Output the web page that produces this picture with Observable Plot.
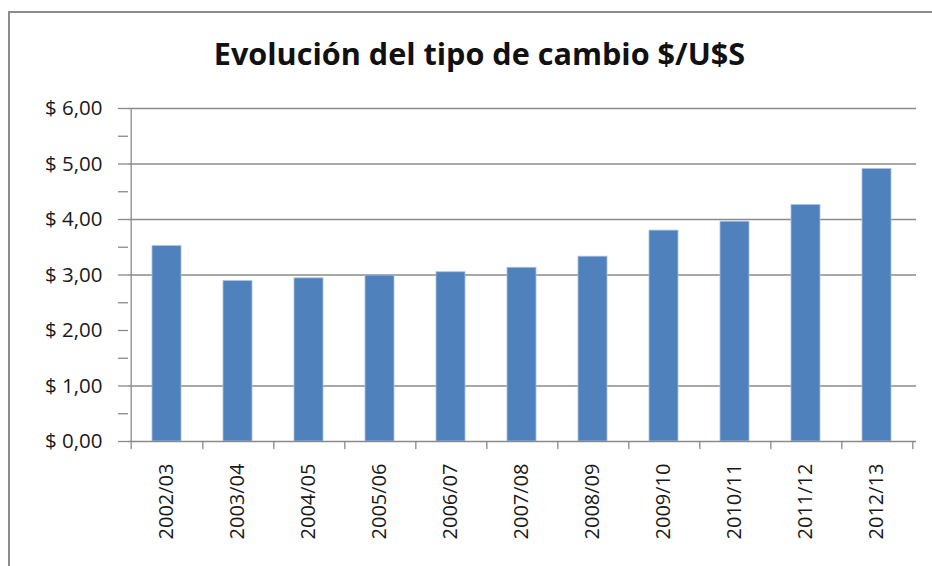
<!DOCTYPE html>
<html>
<head>
<meta charset="utf-8">
<script src="https://cdn.jsdelivr.net/npm/d3@7"></script>
<script src="https://cdn.jsdelivr.net/npm/@observablehq/plot@0.6"></script>
<style>
  html, body { margin: 0; padding: 0; background: #ffffff; }
  #wrap { position: relative; width: 932px; height: 566px; overflow: hidden; background: #ffffff; }
  #frame { position: absolute; left: 8px; top: 11px; right: -4px; bottom: -4px;
           border-left: 2px solid #8c8c8c; border-top: 2px solid #8c8c8c; }
  #title { position: relative; height: 92px; }
  #title span { position: absolute; left: 0; width: 959px; top: 32px; text-align: center;
                font-family: "Open Sans", sans-serif; font-weight: 700; font-size: 30.6px;
                color: #111; line-height: normal; white-space: nowrap; }
  #chart { position: relative; }
</style>
</head>
<body>
<div id="wrap">
  <div id="frame"></div>
  <div id="title"><span>Evolución del tipo de cambio $/U$S</span></div>
  <div id="chart"></div>
</div>
<script>
// Data
const periods = ["2002/03", "2003/04", "2004/05", "2005/06", "2006/07", "2007/08",
                 "2008/09", "2009/10", "2010/11", "2011/12", "2012/13"];
const rates = [3.52, 2.89, 2.94, 2.99, 3.05, 3.13, 3.33, 3.80, 3.96, 4.26, 4.91];
const yLabelTicks = [0, 1, 2, 3, 4, 5, 6];
const yMinorTicks = [0, 0.5, 1, 1.5, 2, 2.5, 3, 3.5, 4, 4.5, 5, 5.5, 6];
const gridValues = [1, 3, 4, 5, 6];

const data = periods.map((p, i) => ({period: p, rate: rates[i]}));

const W = 932, H = 474;
const mL = 128, mR = 16, mT = 16, mB = 125;
const step = (W - mL - mR) / periods.length;
const lineColor = "#8a8a8a";
const fmt = d => "$ " + d.toFixed(2).replace(".", ",");

const chart = Plot.plot({
  width: W,
  height: H,
  marginTop: mT,
  marginBottom: mB,
  marginLeft: mL,
  marginRight: mR,
  style: {background: "transparent", fontFamily: "'Open Sans', sans-serif", color: "#1a1a1a"},
  x: {domain: periods, paddingInner: 0.59, paddingOuter: 0.295, axis: null, label: null},
  y: {domain: [0, 6], axis: null, label: null},
  marks: [
    Plot.gridY(gridValues, {stroke: lineColor, strokeOpacity: 1, strokeWidth: 1.3}),
    Plot.barY(data, {x: "period", y: "rate", fill: "#4f81bd", stroke: "#a9c1e2", strokeWidth: 0.8}),
    Plot.ruleY([0], {stroke: lineColor, strokeWidth: 1.3}),
    Plot.ruleX([periods[0]], {dx: -step / 2, y1: 0, y2: 6, stroke: lineColor, strokeWidth: 1.3}),
    Plot.ruleX(periods, {dx: step / 2, y1: 0, y2: 0, insetBottom: -8, stroke: lineColor, strokeWidth: 1.3}),
    Plot.ruleX([periods[0]], {dx: -step / 2, y1: 0, y2: 0, insetBottom: -8, stroke: lineColor, strokeWidth: 1.3}),
    Plot.axisY(yMinorTicks, {tickSize: 10, tickFormat: () => "", stroke: lineColor, strokeWidth: 1.3, label: null}),
    Plot.axisY(yLabelTicks, {tickSize: 0, tickPadding: 26, tickFormat: fmt, fontSize: 20.5, label: null}),
    Plot.axisX({tickSize: 0, tickPadding: 22, tickRotate: -90, fontSize: 20, label: null})
  ]
});
document.getElementById("chart").appendChild(chart);
</script>
</body>
</html>
